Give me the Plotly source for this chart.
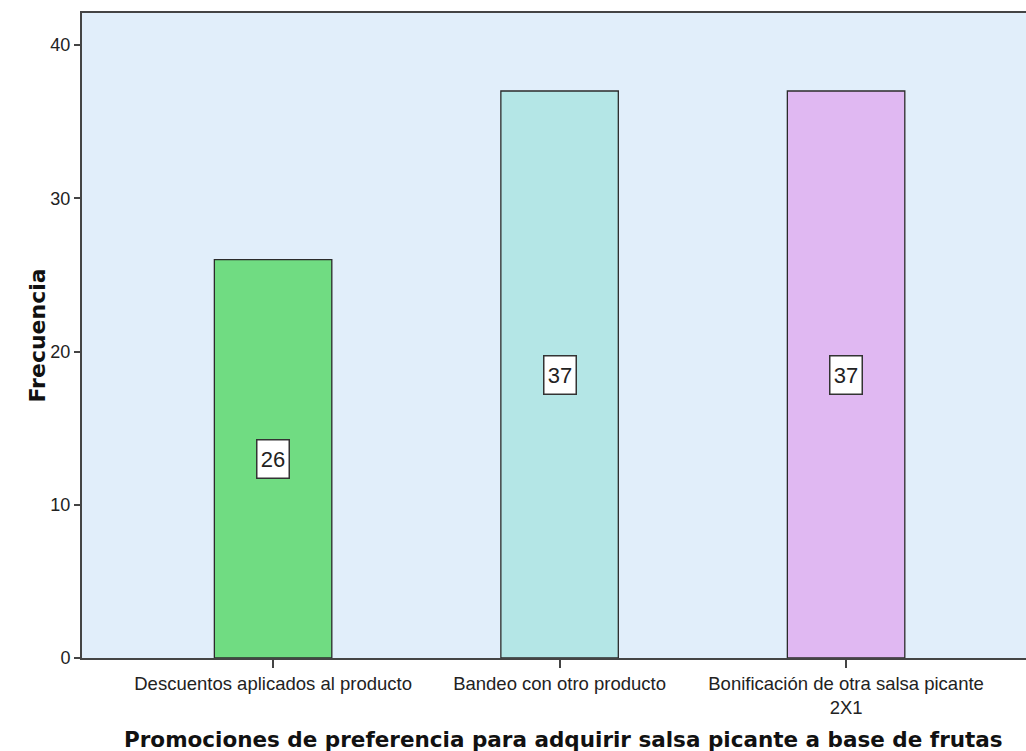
import plotly.graph_objects as go

# Promotion categories and their counts
categorias = [
    "Descuentos aplicados al producto",
    "Bandeo con otro producto",
    "Bonificación de otra salsa picante<br>2X1",
]
frecuencias = [26, 37, 37]
colores = ["#70DC82", "#B4E6E6", "#E0B8F2"]
y_ticks = [0, 10, 20, 30, 40]

x_pos = list(range(len(categorias)))

W, H = 1026, 751
L, R, T, B = 82, 0, 13, 93
pw, ph = W - L - R, H - T - B


def px_to_paper(px, py):
    return (px - L) / pw, (H - B - py) / ph


fig = go.Figure()
fig.add_trace(go.Bar(
    x=x_pos,
    y=frecuencias,
    width=0.41,
    marker=dict(color=colores, line=dict(color="#2b2b2b", width=1.3)),
    hoverinfo="skip",
))

# Boxed value labels centred in each bar
for xi, v in zip(x_pos, frecuencias):
    fig.add_annotation(
        x=xi, y=v / 2, xref="x", yref="y",
        text=str(v), showarrow=False,
        font=dict(family="Liberation Sans, Arial", size=22, color="#222"),
        width=27, height=33,
        bgcolor="white", bordercolor="#333", borderwidth=1.5, borderpad=2,
    )

# Axis titles
fx, fy = px_to_paper(22, 336)
fig.add_annotation(
    x=fx, y=fy, xref="paper", yref="paper",
    text="<b>Frecuencia</b>", textangle=-90, showarrow=False,
    font=dict(family="DejaVu Sans", size=22, color="#111"),
)
tx, ty = px_to_paper(563, 739)
fig.add_annotation(
    x=tx, y=ty, xref="paper", yref="paper",
    text="<b>Promociones de preferencia para adquirir salsa picante a base de frutas</b>",
    showarrow=False, yanchor="middle",
    font=dict(family="DejaVu Sans", size=21.5, color="#111"),
)

fig.update_layout(
    width=W, height=H,
    margin=dict(l=L, r=R, t=T, b=B),
    paper_bgcolor="white",
    plot_bgcolor="#E1EEFA",
    showlegend=False,
    font=dict(family="Liberation Sans, Arial", color="#222"),
    xaxis=dict(
        range=[-0.667, 2.628],
        tickmode="array", tickvals=x_pos, ticktext=categorias,
        ticks="outside", ticklen=8, tickwidth=1.5, tickcolor="#444",
        showline=True, linecolor="#444", linewidth=2, mirror=True,
        showgrid=False, zeroline=False,
        tickfont=dict(size=18.5, color="#222"),
        fixedrange=True,
    ),
    yaxis=dict(
        range=[0, 42.09],
        tickvals=y_ticks,
        ticks="outside", ticklen=6, tickwidth=1.5, tickcolor="#444",
        showline=True, linecolor="#444", linewidth=2, mirror=False,
        showgrid=False, zeroline=False,
        tickfont=dict(size=18, color="#222"),
        fixedrange=True,
    ),
)

fig.write_html("out.html")
